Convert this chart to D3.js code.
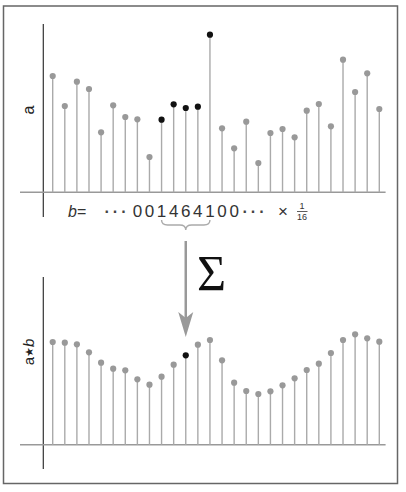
<!DOCTYPE html>
<html>
<head>
<meta charset="utf-8">
<script src="https://cdn.jsdelivr.net/npm/d3@7/dist/d3.min.js"></script>
<style>
  html, body { margin: 0; padding: 0; background: #fff; }
  svg { display: block; }
</style>
</head>
<body>
<script>
// Input signal a (sample heights)
const signalA = [116.3, 86.3, 110.6, 103.3, 60, 87, 75.3, 73, 35.3, 72.6,
                 88, 84.3, 85.6, 157.6, 64, 44, 70.6, 29.3, 59.3, 63.3,
                 55, 81.6, 88.3, 66, 132.6, 100.3, 119, 83.3];
// Smoothed output a * b
const signalAB = [102.7, 102, 100.4, 92.4, 82, 76, 74.4, 65.4, 60, 68,
                  80, 89.4, 100, 104.7, 84.4, 62, 53.7, 50.7, 53.4, 59.4,
                  66.4, 74.7, 81, 91.7, 104.7, 110.4, 106.4, 103];
// Kernel taps written under the samples, first digit under sample 7
const kernelDigits = ["0", "0", "1", "4", "6", "4", "1", "0", "0"];
const kernelStart = 7;
// Window of the kernel and the output sample it produces
const windowIdx = [9, 10, 11, 12, 13];
const outputIdx = 11;

const W = 406, H = 492;
const svg = d3.select("body").append("svg").attr("width", W).attr("height", H);

const x = d3.scaleLinear().domain([0, signalA.length - 1]).range([52.7, 379.3]);
const yTop = d3.scaleLinear().domain([0, 160]).range([192.3, 32.3]);
const yBot = d3.scaleLinear().domain([0, 160]).range([444.7, 284.7]);

// Outer frame
svg.append("rect").attr("x", 3.5).attr("y", 6).attr("width", 394).attr("height", 477.5)
  .attr("fill", "none").attr("stroke", "#666").attr("stroke-width", 1.5);

function stemPlot(data, y, axisTop, axisBottom, highlight) {
  const g = svg.append("g");
  // vertical axis
  g.append("line").attr("x1", 43.3).attr("x2", 43.3).attr("y1", axisTop).attr("y2", axisBottom)
    .attr("stroke", "#333").attr("stroke-width", 1.2);
  // baseline
  g.append("line").attr("x1", 20).attr("x2", 385.6).attr("y1", y(0)).attr("y2", y(0))
    .attr("stroke", "#999").attr("stroke-width", 1.5);
  g.selectAll("line.stem").data(data).join("line").attr("class", "stem")
    .attr("x1", (d, i) => x(i)).attr("x2", (d, i) => x(i))
    .attr("y1", y(0)).attr("y2", d => y(d))
    .attr("stroke", "#aaa").attr("stroke-width", 1.4);
  g.selectAll("circle").data(data).join("circle")
    .attr("cx", (d, i) => x(i)).attr("cy", d => y(d)).attr("r", 3.1)
    .attr("fill", (d, i) => highlight.includes(i) ? "#111" : "#999");
  return g;
}

stemPlot(signalA, yTop, 24, 217, windowIdx);
stemPlot(signalAB, yBot, 277, 469, [outputIdx]);

const font = "Liberation Sans, Arial, sans-serif";

// Axis labels
svg.append("text").attr("transform", `translate(34,110) rotate(-90)`)
  .attr("text-anchor", "middle").attr("font-family", font)
  .attr("font-size", 16).attr("fill", "#222").text("a");
svg.append("text").attr("transform", `translate(34,352) rotate(-90)`)
  .attr("text-anchor", "middle").attr("font-family", font)
  .attr("font-size", 15).attr("fill", "#222")
  .call(t => {
    t.append("tspan").text("a");
    t.append("tspan").attr("font-family", "DejaVu Sans, sans-serif").attr("font-size", 11).attr("dy", -1).text("★");
    t.append("tspan").attr("font-style", "italic").attr("dy", 1).text("b");
  });

// Kernel line: b = ... 001464100 ... x 1/16
const textY = 216.5;
svg.append("text").attr("x", 68).attr("y", textY).attr("font-family", font)
  .attr("font-size", 16).attr("fill", "#333")
  .call(t => {
    t.append("tspan").attr("font-style", "italic").text("b");
    t.append("tspan").text("=");
  });
svg.append("text").attr("x", 117).attr("y", textY).attr("text-anchor", "middle")
  .attr("font-family", font).attr("font-size", 16).attr("font-weight", "bold").attr("fill", "#444")
  .attr("letter-spacing", 3).text("···");
svg.selectAll("text.digit").data(kernelDigits).join("text").attr("class", "digit")
  .attr("x", (d, i) => x(kernelStart + i)).attr("y", textY).attr("text-anchor", "middle")
  .attr("font-family", font).attr("font-size", 17).attr("fill", "#333").text(d => d);
svg.append("text").attr("x", 255).attr("y", textY).attr("text-anchor", "middle")
  .attr("font-family", font).attr("font-size", 16).attr("font-weight", "bold").attr("fill", "#444")
  .attr("letter-spacing", 3).text("···");
svg.append("text").attr("x", 283).attr("y", textY).attr("text-anchor", "middle")
  .attr("font-family", font).attr("font-size", 17).attr("fill", "#333").text("×");
svg.append("text").attr("x", 302).attr("y", 209).attr("text-anchor", "middle")
  .attr("font-family", font).attr("font-size", 9).attr("fill", "#333").text("1");
svg.append("line").attr("x1", 297).attr("x2", 307.5).attr("y1", 211.5).attr("y2", 211.5)
  .attr("stroke", "#333").attr("stroke-width", 0.8);
svg.append("text").attr("x", 302).attr("y", 220).attr("text-anchor", "middle")
  .attr("font-family", font).attr("font-size", 9).attr("fill", "#333").text("16");

// Brace under the kernel window
const bx0 = x(windowIdx[0]), bx1 = x(windowIdx[windowIdx.length - 1]), bm = x(outputIdx);
const by = 220;
const brace = `M${bx0},${by} Q${bx0},${by + 5} ${bx0 + 6},${by + 5} L${bm - 6},${by + 5}
  Q${bm},${by + 5} ${bm},${by + 10} Q${bm},${by + 5} ${bm + 6},${by + 5}
  L${bx1 - 6},${by + 5} Q${bx1},${by + 5} ${bx1},${by}`;
svg.append("path").attr("d", brace).attr("fill", "none").attr("stroke", "#aaa").attr("stroke-width", 1.4);

// Summation arrow
svg.append("line").attr("x1", bm).attr("x2", bm).attr("y1", 241).attr("y2", 322)
  .attr("stroke", "#999").attr("stroke-width", 2.5);
svg.append("path")
  .attr("d", `M${bm},337 L${bm - 7.5},312 L${bm},318 L${bm + 7.5},312 Z`)
  .attr("fill", "#999");
svg.append("text").attr("x", 197).attr("y", 290).attr("font-family", "Liberation Serif, Times New Roman, serif")
  .attr("font-size", 50).attr("fill", "#111").text("Σ");
</script>
</body>
</html>
